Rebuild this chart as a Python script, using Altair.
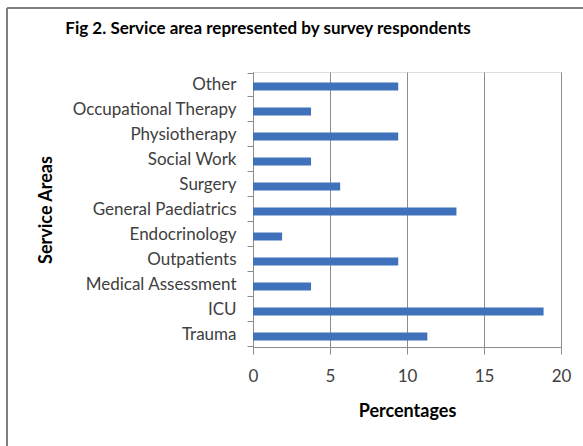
import altair as alt
import pandas as pd

categories = ["Other", "Occupational Therapy", "Physiotherapy", "Social Work", "Surgery",
              "General Paediatrics", "Endocrinology", "Outpatients", "Medical Assessment",
              "ICU", "Trauma"]
percentages = [9.43, 3.77, 9.43, 3.77, 5.66, 13.21, 1.89, 9.43, 3.77, 18.87, 11.32]
x_ticks = [0, 5, 10, 15, 20]

df = pd.DataFrame({"area": categories, "pct": percentages})

FONT = "Lato"
GRAY = "#8c8c8c"

bars = alt.Chart(df).mark_bar(color="#3F72BB", height=8, yOffset=2).encode(
    x=alt.X("pct:Q", scale=alt.Scale(domain=[0, 20], nice=False),
            axis=alt.Axis(values=x_ticks, title="Percentages", grid=True, gridColor=GRAY,
                          domainColor=GRAY, tickColor=GRAY, tickSize=7, labelPadding=14,
                          labelFlush=False,
                          labelFontSize=17, labelColor="#404040", labelFont=FONT,
                          titleFont=FONT, titleFontSize=18, titleFontWeight="bold",
                          titleColor="#000000", titlePadding=18)),
    y=alt.Y("area:N", sort=categories,
            axis=alt.Axis(title="Service Areas", tickBand="extent", tickColor=GRAY,
                          domainColor=GRAY, tickSize=6, labelPadding=11, labelFontSize=17,
                          labelColor="#404040", labelFont=FONT, titleFont=FONT,
                          titleFontSize=18, titleFontWeight="bold", titleColor="#000000",
                          titlePadding=16, labelLimit=300)),
)

border_v = alt.Chart(df).mark_rule(color="#7f7f7f", strokeWidth=2).encode(
    x=alt.value(-246), y=alt.value(-64), y2=alt.value(400))
border_h = alt.Chart(df).mark_rule(color="#7f7f7f", strokeWidth=2).encode(
    x=alt.value(-246), x2=alt.value(340), y=alt.value(-64))

chart = alt.layer(bars, border_v, border_h).properties(
    width=308, height=275,
    autosize=alt.AutoSizeParams(type="none"),
    padding={"left": 253, "top": 72, "right": 22, "bottom": 99},
    title=alt.TitleParams("Fig 2. Service area represented by survey respondents",
                          font=FONT, fontSize=17, fontWeight="bold", color="#000000",
                          anchor="middle", frame="group", dx=-139, offset=-31),
).configure_view(stroke=None).configure(background="white")

chart.save("out.html", embed_options={"renderer": "svg", "actions": False})
